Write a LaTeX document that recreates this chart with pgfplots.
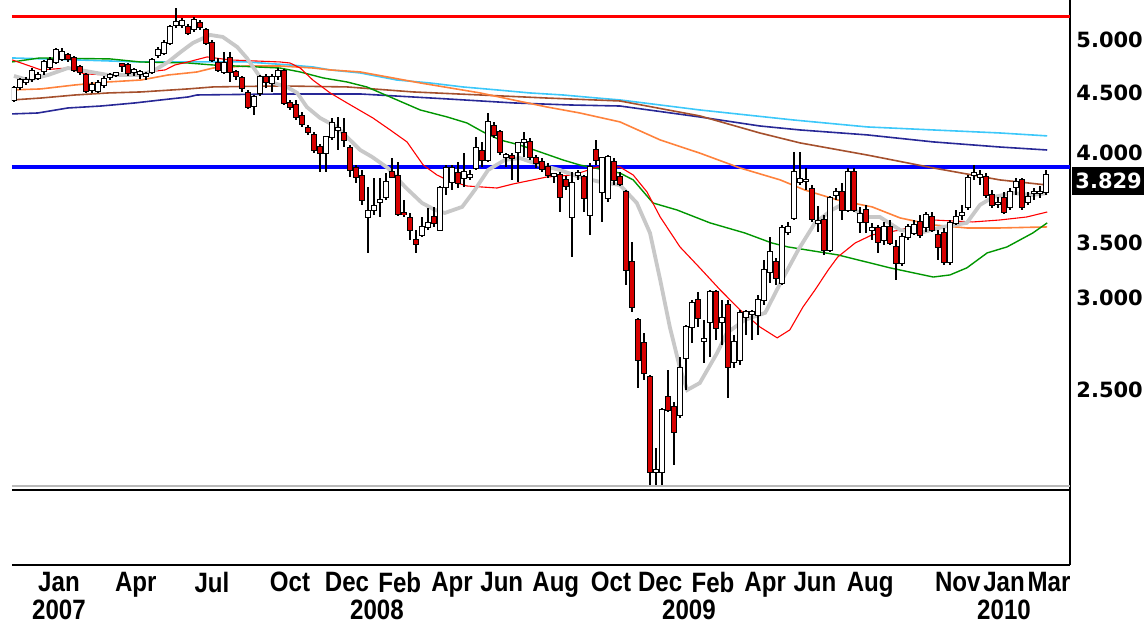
\documentclass[border=0pt]{standalone}
\usepackage{pgfplots}
\pgfplotsset{compat=1.18}
\usepackage{pgfplotstable}
\usepackage{fontspec}
\setmainfont{Liberation Sans}
\newfontfamily\xfont{Liberation Sans}[FakeStretch=0.86]
\newfontfamily\yfont{DejaVu Sans}
\definecolor{cRed}{RGB}{255,0,0}
\definecolor{cBlue}{RGB}{0,0,255}
\definecolor{maGray}{RGB}{200,200,200}
\definecolor{maGreen}{RGB}{0,150,0}
\definecolor{maCyan}{RGB}{60,200,250}
\definecolor{maNavy}{RGB}{40,40,150}
\definecolor{maBrown}{RGB}{165,80,45}
\definecolor{maOrange}{RGB}{255,130,60}
\definecolor{candleRed}{RGB}{215,0,0}

\pgfplotstableread{
i o h l c
0 4.440 4.565 4.422 4.547
1 4.556 4.638 4.529 4.619
2 4.601 4.647 4.574 4.619
3 4.628 4.730 4.601 4.703
4 4.638 4.693 4.619 4.665
5 4.703 4.806 4.665 4.787
6 4.740 4.835 4.712 4.806
7 4.787 4.922 4.768 4.902
8 4.816 4.922 4.796 4.883
9 4.854 4.873 4.787 4.816
10 4.825 4.844 4.693 4.712
11 4.740 4.758 4.665 4.693
12 4.665 4.684 4.502 4.520
13 4.529 4.601 4.502 4.574
14 4.520 4.619 4.502 4.592
15 4.574 4.656 4.547 4.628
16 4.647 4.684 4.619 4.665
17 4.665 4.693 4.647 4.684
18 4.768 4.777 4.693 4.749
19 4.758 4.777 4.656 4.684
20 4.693 4.730 4.656 4.712
21 4.675 4.712 4.628 4.693
22 4.656 4.693 4.619 4.675
23 4.693 4.825 4.675 4.806
24 4.854 4.931 4.825 4.902
25 4.873 5.000 4.854 4.970
26 4.970 5.151 4.951 5.131
27 5.151 5.327 5.120 5.182
28 5.151 5.223 5.120 5.192
29 5.131 5.161 5.050 5.070
30 5.110 5.233 5.080 5.202
31 5.171 5.202 5.100 5.131
32 5.100 5.120 4.951 4.970
33 4.970 5.000 4.787 4.806
34 4.777 4.825 4.693 4.712
35 4.693 4.883 4.675 4.777
36 4.825 4.883 4.601 4.693
37 4.693 4.712 4.619 4.656
38 4.638 4.656 4.511 4.547
39 4.502 4.529 4.362 4.379
40 4.387 4.484 4.310 4.466
41 4.502 4.665 4.475 4.647
42 4.647 4.675 4.547 4.601
43 4.592 4.675 4.511 4.647
44 4.656 4.730 4.619 4.703
45 4.703 4.721 4.396 4.414
46 4.414 4.440 4.353 4.379
47 4.396 4.440 4.268 4.293
48 4.302 4.336 4.209 4.234
49 4.200 4.225 4.143 4.167
50 4.143 4.167 3.997 4.021
51 4.045 4.070 3.850 3.997
52 3.997 4.127 3.850 4.127
53 4.127 4.285 4.102 4.242
54 4.184 4.293 4.021 4.200
55 4.159 4.285 4.045 4.102
56 4.037 4.061 3.812 3.865
57 3.881 3.904 3.767 3.812
58 3.820 3.865 3.607 3.642
59 3.522 3.737 3.280 3.564
60 3.571 3.805 3.536 3.600
61 3.628 3.805 3.522 3.642
62 3.664 3.842 3.642 3.775
63 3.850 3.958 3.805 3.812
64 3.820 3.927 3.529 3.543
65 3.550 3.642 3.522 3.543
66 3.515 3.550 3.365 3.432
67 3.365 3.432 3.280 3.339
68 3.399 3.522 3.385 3.453
69 3.453 3.586 3.432 3.481
70 3.522 3.593 3.453 3.481
71 3.432 3.745 3.425 3.730
72 3.737 3.904 3.679 3.881
73 3.775 3.904 3.715 3.881
74 3.842 3.927 3.730 3.767
75 3.805 3.997 3.737 3.850
76 3.812 3.865 3.790 3.827
77 3.881 4.127 3.865 4.037
78 4.013 4.086 3.888 3.943
79 3.943 4.327 3.927 4.251
80 4.217 4.251 4.119 4.143
81 4.167 4.184 3.982 4.005
82 3.966 3.997 3.888 3.982
83 3.974 3.997 3.790 3.958
84 4.005 4.086 3.775 4.078
85 4.086 4.167 3.966 4.102
86 4.086 4.119 3.943 3.966
87 3.958 3.982 3.881 3.919
88 3.927 3.958 3.850 3.873
89 3.888 3.919 3.805 3.827
90 3.820 3.842 3.767 3.835
91 3.827 3.850 3.557 3.664
92 3.790 3.820 3.715 3.745
93 3.522 3.850 3.254 3.767
94 3.827 3.865 3.790 3.842
95 3.812 3.827 3.557 3.657
96 3.536 3.919 3.399 3.888
97 4.021 4.102 3.904 3.943
98 3.701 3.966 3.487 3.958
99 3.657 3.982 3.628 3.966
100 3.927 3.958 3.752 3.790
101 3.812 3.850 3.745 3.760
102 3.701 3.715 3.078 3.171
103 3.222 3.352 2.918 2.947
104 2.872 2.884 2.510 2.653
105 2.744 2.799 2.550 2.586
106 2.566 2.576 2.072 2.126
107 2.126 2.229 2.072 2.134
108 2.126 2.412 2.072 2.403
109 2.466 2.601 2.394 2.403
110 2.417 2.441 2.155 2.301
111 2.380 2.669 2.366 2.611
112 2.664 2.844 2.500 2.833
113 2.833 2.988 2.744 2.971
114 2.988 3.036 2.833 2.884
115 2.755 2.872 2.637 2.766
116 2.861 3.048 2.669 3.036
117 3.036 3.048 2.761 2.827
118 2.861 2.988 2.733 2.884
119 2.959 2.988 2.461 2.617
120 2.643 2.788 2.611 2.750
121 2.653 2.930 2.627 2.913
122 2.890 2.930 2.788 2.918
123 2.907 2.930 2.761 2.918
124 2.901 3.018 2.788 2.988
125 2.988 3.234 2.959 3.171
126 3.159 3.385 3.090 3.286
127 3.222 3.247 3.078 3.121
128 3.090 3.467 3.078 3.446
129 3.419 3.487 3.399 3.453
130 3.515 4.005 3.501 3.850
131 3.775 4.005 3.752 3.797
132 3.782 3.881 3.715 3.790
133 3.722 3.752 3.487 3.508
134 3.481 3.600 3.419 3.494
135 3.501 3.536 3.267 3.299
136 3.299 3.672 3.286 3.657
137 3.679 3.730 3.642 3.701
138 3.701 3.767 3.501 3.571
139 3.571 3.881 3.557 3.850
140 3.850 3.881 3.557 3.571
141 3.487 3.593 3.412 3.543
142 3.571 3.607 3.412 3.487
143 3.432 3.481 3.365 3.446
144 3.446 3.467 3.280 3.352
145 3.365 3.487 3.332 3.453
146 3.453 3.501 3.332 3.345
147 3.319 3.365 3.109 3.215
148 3.215 3.412 3.196 3.385
149 3.385 3.474 3.365 3.453
150 3.412 3.501 3.399 3.467
151 3.487 3.536 3.379 3.399
152 3.453 3.557 3.419 3.536
153 3.522 3.557 3.419 3.432
154 3.399 3.432 3.234 3.319
155 3.412 3.446 3.203 3.222
156 3.222 3.501 3.203 3.481
157 3.481 3.571 3.467 3.522
158 3.536 3.607 3.501 3.550
159 3.593 3.827 3.571 3.805
160 3.827 3.904 3.790 3.842
161 3.812 3.865 3.752 3.827
162 3.812 3.842 3.657 3.679
163 3.679 3.715 3.586 3.607
164 3.614 3.664 3.586 3.621
165 3.657 3.701 3.543 3.557
166 3.593 3.730 3.571 3.701
167 3.737 3.805 3.679 3.775
168 3.790 3.805 3.571 3.593
169 3.628 3.701 3.607 3.664
170 3.693 3.730 3.642 3.701
171 3.693 3.745 3.657 3.701
172 3.701 3.865 3.679 3.829
}\candles

\pgfplotsset{
  candlepart/.style={draw=none, mark=none, no markers, forget plot},
}

\begin{document}
\begin{tikzpicture}
\begin{axis}[
  scale only axis, width=529pt, height=282.5pt,
  xmin=-0.33, xmax=176, ymode=log, ymin=1.768, ymax=5.412,
  axis x line*=bottom, axis y line*=right,
  axis line style={black, line width=0.8pt},
  major tick length=0pt,
  xtick={7.5,20.3,33,46,55.5,64.3,73,81.3,90.3,99.5,107.7,116.5,125.2,133.5,142.7,157.3,165,172.5},
  xticklabels={Jan,Apr,Jul,Oct,Dec,Feb,Apr,Jun,Aug,Oct,Dec,Feb,Apr,Jun,Aug,Nov,Jan,Mar},
  xticklabel style={font=\xfont\bfseries\fontsize{14}{14}\selectfont, anchor=north},
  extra x ticks={7.5,60.5,112.5,165},
  extra x tick labels={2007,2008,2009,2010},
  extra x tick style={xticklabel style={yshift=-14pt}},
  ytick={2.5,3,4,4.5,5},
  yticklabels={2.500,3.000,4.000,4.500,5.000},
  extra y ticks={3.5}, extra y tick labels={3.500},
  extra y tick style={yticklabel style={yshift=-11.5pt}},
  yticklabel style={font=\yfont\bfseries\fontsize{10.5}{10.5}\selectfont, anchor=west, inner sep=0pt, xshift=3pt},
]
\coordinate (SW) at (rel axis cs:0,0);
\coordinate (lastc) at (axis cs:176,3.782);
% horizontal levels
\addplot[cRed, line width=1.5pt] coordinates {(-0.33,5.233) (176,5.233)};
\addplot[cBlue, line width=2pt] coordinates {(-0.33,3.888) (176,3.888)};
\addplot[gray!55, line width=0.9pt] coordinates {(-0.33,2.066) (176,2.066)};
\addplot[black, line width=1pt] coordinates {(-0.33,2.051) (176,2.051)};
% moving averages
\addplot[maCyan, line width=0.8pt] coordinates {(-0.3,4.825)(5.2,4.816)(21,4.787)(38.8,4.787)(46,4.758)(49.8,4.740)(52.7,4.712)(57.7,4.684)(63.8,4.619)(69.3,4.592)(74.8,4.556)(80.5,4.529)(86,4.502)(91.5,4.484)(97.2,4.457)(101,4.440)(114.3,4.353)(129.8,4.268)(142.2,4.209)(153.2,4.184)(164.3,4.159)(172.2,4.135)};
\addplot[maNavy, line width=0.8pt] coordinates {(-0.3,4.319)(4,4.327)(9,4.370)(14.5,4.387)(20.2,4.414)(24.5,4.440)(29,4.466)(30.5,4.484)(44.3,4.493)(57.7,4.493)(72.2,4.449)(83.2,4.414)(92.7,4.396)(101,4.387)(114.3,4.293)(124.3,4.217)(131,4.184)(142.2,4.143)(153.2,4.086)(164.3,4.045)(172.2,4.021)};
\addplot[maBrown, line width=0.8pt] coordinates {(-0.3,4.440)(4.5,4.457)(10.2,4.484)(15.7,4.502)(21.2,4.511)(29,4.538)(33.2,4.556)(44.3,4.565)(55.5,4.556)(66.5,4.511)(77.7,4.484)(88.8,4.457)(101,4.431)(114.3,4.302)(124.3,4.159)(131,4.078)(142.2,3.982)(153.2,3.881)(164.3,3.790)(172.2,3.752)};
\addplot[maOrange, line width=0.8pt] coordinates {(-0.3,4.529)(4.5,4.538)(10.2,4.574)(15.7,4.601)(21.2,4.619)(25.7,4.665)(29,4.684)(30.5,4.693)(33.2,4.730)(38.8,4.749)(44.3,4.749)(49.8,4.730)(52.7,4.712)(57.7,4.693)(67.7,4.592)(77.7,4.502)(83.2,4.440)(88.8,4.379)(94.3,4.327)(101,4.251)(107.7,4.102)(114.3,3.997)(121,3.881)(127.7,3.790)(131.8,3.715)(137.3,3.642)(143,3.593)(147.7,3.515)(153.2,3.467)(158.8,3.446)(164.3,3.446)(172.2,3.453)};
\addplot[maGreen, line width=0.7pt] coordinates {(-0.3,4.787)(4.3,4.825)(16,4.816)(21,4.787)(29,4.777)(33.2,4.758)(44.3,4.730)(47.7,4.693)(51.5,4.638)(55.5,4.601)(58.8,4.556)(62.7,4.466)(67.7,4.353)(72.2,4.293)(75.5,4.242)(78.2,4.167)(81,4.102)(84.3,4.061)(87.7,4.005)(91.5,3.943)(94.3,3.904)(101,3.842)(103.2,3.790)(106.5,3.621)(110.5,3.571)(116,3.481)(121.8,3.412)(126.3,3.345)(129,3.319)(137.3,3.267)(146,3.184)(153.2,3.127)(156,3.140)(158.8,3.184)(162.2,3.280)(165.5,3.319)(169.8,3.412)(172.2,3.481)};
\addplot[cRed, line width=0.55pt] coordinates {(-0.3,4.806)(1.2,4.777)(4.5,4.712)(9,4.730)(11.8,4.675)(15.7,4.665)(20.2,4.665)(22.3,4.693)(25.2,4.712)(26.8,4.758)(29,4.787)(32.2,4.835)(36,4.806)(44.3,4.787)(46,4.777)(47.7,4.730)(49.8,4.619)(52.7,4.502)(55.5,4.414)(59.8,4.285)(62.7,4.184)(65.5,4.086)(68.2,3.904)(70.5,3.827)(72.2,3.790)(75.5,3.745)(80.5,3.730)(83.2,3.760)(88.8,3.812)(93.2,3.827)(97.2,3.888)(101,3.888)(103.2,3.827)(105.5,3.701)(107.7,3.522)(111,3.319)(114.3,3.184)(117.7,3.048)(121,2.930)(124.3,2.833)(127.2,2.772)(129.3,2.816)(131.5,2.947)(133.5,3.048)(135.7,3.171)(137.3,3.254)(140.2,3.345)(143,3.399)(147.7,3.432)(153.2,3.501)(159.8,3.487)(164.3,3.501)(168.8,3.522)(172.2,3.557)};
\addplot[maGray, line width=1.9pt] coordinates {(0,4.656)(2.3,4.619)(5.7,4.665)(9,4.730)(12.8,4.693)(15.7,4.665)(21.2,4.665)(23.5,4.712)(25.7,4.787)(27.8,4.883)(29.8,4.970)(32.7,5.050)(34.8,5.030)(37.2,4.931)(38.8,4.825)(41,4.647)(43.2,4.592)(45.5,4.556)(47.2,4.502)(48.8,4.379)(51,4.285)(53.8,4.209)(56,4.102)(57.7,4.021)(59.7,3.966)(62.3,3.881)(65.2,3.737)(68,3.621)(70.2,3.571)(71.8,3.550)(74.7,3.593)(76.8,3.715)(79,3.865)(81.8,3.943)(84.3,3.958)(87.7,3.904)(91,3.865)(94.3,3.812)(97.7,3.775)(101,3.752)(103.8,3.621)(106,3.412)(107.7,3.109)(109.3,2.833)(111,2.611)(112.2,2.500)(114.3,2.535)(117.2,2.691)(118.8,2.799)(121.8,2.872)(125.2,2.913)(128,3.109)(130.7,3.299)(133.5,3.481)(136.3,3.571)(138.5,3.621)(141.8,3.522)(144.3,3.522)(147.7,3.432)(151,3.412)(154.8,3.453)(158.8,3.481)(161,3.607)(163.2,3.664)(166.5,3.693)(169.8,3.679)(172.2,3.693)};
% candles: wicks
\addplot[candlepart, error bars/.cd, y dir=both, y explicit, error mark=none,
  error bar style={draw=black, line width=0.7pt}]
  table[x=i, y expr={(\thisrow{h}+\thisrow{l})/2}, y error expr={(\thisrow{h}-\thisrow{l})/2}] {\candles};
% bodies outline (one pixel beyond the body at top and bottom)
\addplot[candlepart, error bars/.cd, y dir=both, y explicit, error mark=none,
  error bar style={draw=black, line width=2.8pt}]
  table[x=i, y expr={(\thisrow{o}+\thisrow{c})/2}, y error expr={abs(\thisrow{o}-\thisrow{c})/2+0.0025*\thisrow{o}}] {\candles};
% up bodies
\addplot[candlepart, restrict expr to domain={\thisrow{c}-\thisrow{o}}{0:10},
  error bars/.cd, y dir=both, y explicit, error mark=none,
  error bar style={draw=white, line width=1.6pt}]
  table[x=i, y expr={(\thisrow{o}+\thisrow{c})/2}, y error expr={abs(\thisrow{o}-\thisrow{c})/2}] {\candles};
% down bodies
\addplot[candlepart, restrict expr to domain={\thisrow{c}-\thisrow{o}}{-10:-0.0001},
  error bars/.cd, y dir=both, y explicit, error mark=none,
  error bar style={draw=candleRed, line width=1.6pt}]
  table[x=i, y expr={(\thisrow{o}+\thisrow{c})/2}, y error expr={abs(\thisrow{o}-\thisrow{c})/2}] {\candles};
\end{axis}
\node[fill=black, text=white, anchor=west, inner sep=0pt, minimum height=14pt, text width=37pt, align=left, font=\yfont\bfseries\fontsize{10.5}{10.5}\selectfont] at ([xshift=1pt]lastc) {\hspace{1.5pt}3.829};
\pgfresetboundingbox
\path[use as bounding box] (SW) ++(-6pt,-31.5pt) rectangle ++(572pt,314pt);
\end{tikzpicture}
\end{document}
